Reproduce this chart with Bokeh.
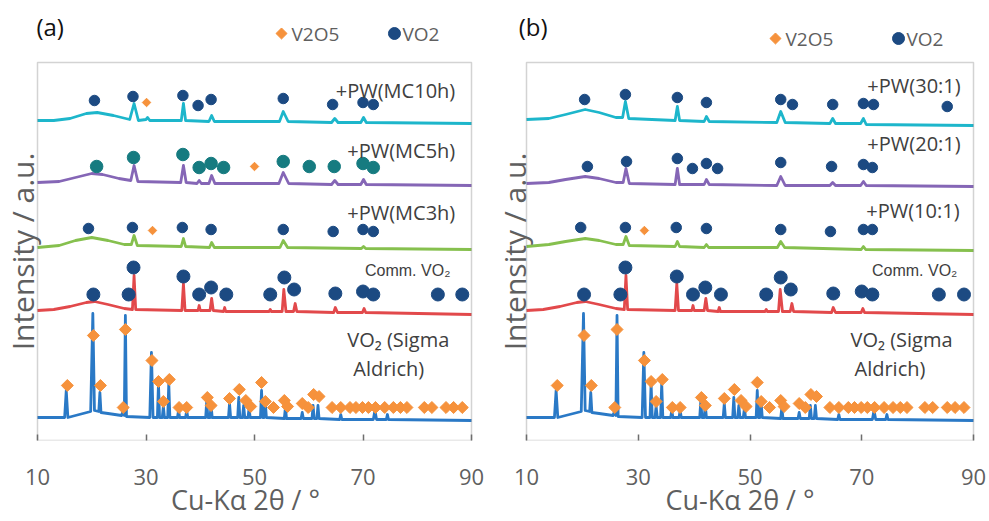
import math
from bokeh.plotting import figure
from bokeh.layouts import row
from bokeh.models import Range1d, Label, FixedTicker, BoxAnnotation
from bokeh.embed import file_html
from bokeh.resources import INLINE

# ---------------- data ----------------
X_TICKS = [10, 30, 50, 70, 90]
X_MIN, X_MAX = 10, 90
Y_TOP = 378  # top of the plotting box, a.u.

# XRD traces: (2theta, intensity incl. vertical offset, a.u.)
sigma_trace = [(10, 23), (15.0, 23), (15.3, 50), (15.6, 23), (17, 25), (19.8, 29), (20.2, 127), (20.5, 30),
               (21.3, 29), (21.5, 48), (21.7, 28), (23, 27), (25.5, 25), (25.8, 30), (26.0, 25), (26.2, 125),
               (26.4, 24), (30.7, 23), (31.0, 88), (31.3, 23), (32.1, 23), (32.3, 57), (32.5, 23), (33.0, 23),
               (33.2, 34), (33.4, 23), (34.0, 23), (34.2, 57), (34.4, 23), (35.8, 23), (36.0, 30), (36.2, 23),
               (37.3, 23), (37.5, 30), (37.7, 23), (41.0, 23), (41.2, 40), (41.4, 23), (41.8, 23), (42.0, 35),
               (42.2, 23), (45.2, 23), (45.4, 37), (45.6, 23), (46.9, 23), (47.1, 43), (47.3, 23), (47.8, 23),
               (48.0, 35), (48.2, 23), (48.8, 23), (49.0, 32), (49.2, 23), (51.1, 23), (51.3, 50), (51.5, 23),
               (51.8, 23), (52.0, 37), (52.2, 23), (55.5, 22), (55.7, 33), (55.9, 22), (58.6, 22), (58.8, 28),
               (59.0, 22), (60.6, 22), (60.8, 35), (61.0, 22), (61.5, 22), (61.7, 35), (61.9, 22), (65.7, 21),
               (65.9, 26), (66.1, 21), (71.9, 21), (72.2, 30), (72.5, 21), (74.3, 21), (74.5, 26), (74.7, 21),
               (90, 20)]
comm_trace = [(10, 130), (13, 131), (16, 134), (19, 138), (20.5, 139), (23, 136), (26, 132), (27.5, 131),
              (27.8, 165), (28.1, 131), (36.6, 130), (36.9, 157), (37.2, 130), (39.6, 130), (39.8, 135),
              (40.0, 130), (41.8, 130), (42.1, 142), (42.4, 130), (44.3, 129), (44.5, 133), (44.7, 129),
              (52.7, 129), (52.9, 131), (53.1, 129), (55.1, 129), (55.4, 151), (55.8, 129), (57.2, 129),
              (57.5, 137), (57.8, 129), (64.6, 128), (64.9, 133), (65.3, 128), (69.9, 128), (70.2, 132),
              (70.5, 128), (90, 126)]
mc3h_trace = [(10, 193), (14, 195), (17, 200), (20, 203), (23, 200), (26, 196), (27.3, 196), (27.8, 205),
              (28.4, 195), (36.5, 194), (36.9, 202), (37.3, 194), (41.7, 193), (42.1, 198), (42.6, 193),
              (54.7, 193), (55.3, 200), (56.1, 193), (69.7, 192), (70.1, 194), (70.5, 192), (90, 191)]
mc5h_trace = [(10, 258), (14, 259), (17, 263), (20, 267), (22, 266), (25, 262), (27.2, 260), (27.8, 275),
              (28.5, 259), (36.4, 258), (36.9, 275), (37.4, 258), (39.4, 257), (39.8, 260), (40.2, 257),
              (41.6, 257), (42.1, 265), (42.7, 257), (54.5, 257), (55.3, 268), (56.3, 257), (64.2, 256),
              (64.8, 260), (65.4, 256), (69.6, 256), (70.1, 261), (70.6, 256), (90, 255)]
mc10h_trace = [(10, 320), (13, 320), (16, 322), (19, 327), (21, 328), (24, 325), (27, 321), (27.8, 337),
               (28.6, 320), (30.0, 321), (30.3, 323), (30.7, 320), (36.5, 320), (36.9, 337), (37.3, 320),
               (41.6, 319), (42.1, 325), (42.6, 319), (54.6, 319), (55.3, 329), (56.2, 319), (64.2, 318),
               (64.8, 322), (65.4, 318), (69.6, 318), (70.1, 323), (70.6, 318), (90, 317)]
r10_trace = [(10, 194), (14, 196), (17, 199), (20.5, 202), (23, 200), (26, 196), (27.3, 196), (27.8, 204),
             (28.4, 195), (36.6, 194), (37.0, 199), (37.4, 194), (41.8, 193), (42.2, 196), (42.6, 193),
             (54.9, 193), (55.5, 199), (56.2, 193), (69.9, 191), (70.3, 194), (70.7, 191), (90, 190)]
r20_trace = [(10, 257), (14, 258), (17, 261), (20.5, 264), (23, 262), (26, 258), (27.3, 258), (27.8, 272),
             (28.4, 257), (36.6, 256), (37.0, 272), (37.4, 256), (41.8, 256), (42.2, 261), (42.7, 256),
             (54.8, 255), (55.5, 264), (56.3, 255), (64.3, 255), (64.8, 258), (65.3, 255), (69.8, 255),
             (70.3, 259), (70.8, 255), (90, 254)]
r30_trace = [(10, 321), (14, 322), (17, 326), (20.5, 331), (23, 328), (26, 323), (27.2, 323), (27.7, 339),
             (28.3, 322), (36.6, 320), (37.0, 334), (37.4, 320), (41.8, 319), (42.2, 324), (42.7, 319),
             (54.8, 318), (55.5, 329), (56.3, 318), (64.3, 317), (64.8, 322), (65.3, 317), (69.8, 317),
             (70.3, 322), (70.8, 316), (90, 315)]

# phase markers (2theta, marker height in a.u.)
sigma_v2o5_x = [15.5, 20.3, 21.6, 25.8, 26.2, 31.1, 32.3, 33.2, 34.3, 36.1, 37.5, 41.3, 42.0, 45.4, 47.2,
                48.4, 49.3, 51.3, 52.0, 53.5, 55.5, 56.1, 58.8, 59.9, 60.9, 61.9, 64.3, 65.9, 67.6, 68.7,
                69.9, 71.0, 72.3, 74.0, 75.6, 76.9, 78.1, 81.3, 82.7, 85.3, 86.7, 88.3]
sigma_v2o5_y = [55, 105, 55, 33, 111, 80, 59, 39, 61, 33, 33, 43, 35, 42, 51,
                40, 34, 58, 39, 33, 40, 34, 37, 33, 46, 44, 33, 33, 33, 33,
                33, 33, 33, 33, 33, 33, 33, 33, 33, 33, 33, 33]
comm_vo2_x = [20.3, 26.8, 27.7, 36.9, 39.8, 42.0, 44.8, 52.9, 55.5, 57.3, 64.9, 70.0, 71.9, 83.8, 88.3]
comm_vo2_y = [146, 146, 173, 164, 146, 153, 146, 146, 163, 151, 147, 149, 146, 146, 146]

mc3h_vo2_x = [19.4, 27.5, 36.7, 42.0, 55.3, 64.5, 70.0, 71.9]
mc3h_vo2_y = [212, 213, 213, 211, 211, 209, 211, 209]
mc3h_v2o5_x = [31.2]
mc3h_v2o5_y = [210]
mc5h_vo2_x = [20.9, 27.7, 36.8, 39.8, 42.0, 44.3, 55.3, 60.1, 64.7, 70.0, 71.9]
mc5h_vo2_y = [274, 283, 286, 273, 277, 273, 279, 274, 274, 277, 273]
mc5h_v2o5_x = [50.0]
mc5h_v2o5_y = [274]
mc10h_vo2_x = [20.5, 27.6, 36.8, 39.6, 42.0, 55.3, 64.4, 70.0, 71.9]
mc10h_vo2_y = [340, 344, 345, 335, 341, 342, 336, 338, 336]
mc10h_v2o5_x = [30.1]
mc10h_v2o5_y = [338]

r10_vo2_x = [19.7, 27.7, 36.8, 42.2, 55.5, 64.4, 70.3, 71.9]
r10_vo2_y = [213, 213, 213, 212, 211, 209, 211, 211]
r10_v2o5_x = [31.1]
r10_v2o5_y = [210]
r20_vo2_x = [20.9, 27.9, 37.0, 39.7, 42.2, 44.2, 55.5, 64.6, 70.3, 71.9]
r20_vo2_y = [274, 279, 282, 272, 277, 272, 278, 274, 276, 273]
r30_vo2_x = [20.4, 27.7, 37.0, 42.2, 55.5, 57.6, 64.8, 70.3, 72.1, 85.3]
r30_vo2_y = [341, 346, 343, 338, 341, 336, 336, 337, 336, 334]

labels_a = ["+PW(MC10h)", "+PW(MC5h)", "+PW(MC3h)"]
labels_b = ["+PW(30:1)", "+PW(20:1)", "+PW(10:1)"]
legend_names = ["V2O5", "VO2"]

# ---------------- style ----------------
C_CYAN = "#1DB6CB"
C_PURPLE = "#8566B6"
C_GREEN = "#86C04E"
C_RED = "#E2494B"
C_BLUE = "#2A79C6"
C_ORANGE = "#F6923C"
C_NAVY = "#1C4A82"
C_TEAL = "#167B80"
C_FRAME = "#6E6E6E"
C_TXT = "#404040"
C_AX = "#5F5F5F"
FONT = "Open Sans"

FIG_H = 521
AXIS_H = 81          # pixels below the box for ticks + title


def xs(tr):
    return [p[0] for p in tr]


def ys(tr):
    return [p[1] for p in tr]


def make_panel(width, box_left, box_w, traces, markers, texts, tag, legend_pos, ytitle_x):
    scale = box_w / (X_MAX - X_MIN)
    x0 = X_MIN - box_left / scale
    x1 = X_MAX + (width - box_left - box_w) / scale
    frame_h = FIG_H - AXIS_H
    p = figure(width=width, height=FIG_H, output_backend="svg", toolbar_location=None,
               x_range=Range1d(x0, x1), y_range=Range1d(0, frame_h),
               min_border_left=0, min_border_right=0, min_border_top=0, min_border_bottom=AXIS_H)
    p.grid.visible = False
    p.yaxis.visible = False
    p.outline_line_color = None
    p.background_fill_color = "white"
    p.border_fill_color = "white"

    ax = p.xaxis[0]
    ax.ticker = FixedTicker(ticks=X_TICKS)
    ax.minor_tick_line_color = None
    ax.major_tick_in = 6
    ax.major_tick_out = 0
    ax.major_tick_line_color = C_FRAME
    ax.major_tick_line_width = 1.5
    ax.axis_line_color = None
    ax.major_label_text_font = FONT
    ax.major_label_text_font_size = "22px"
    ax.major_label_text_color = C_AX
    ax.major_label_standoff = 28
    ax.axis_label = "Cu-K\u03b1 2\u03b8 / \u00b0"
    ax.axis_label_text_font = FONT
    ax.axis_label_text_font_size = "27px"
    ax.axis_label_text_font_style = "normal"
    ax.axis_label_text_color = C_AX
    ax.axis_label_standoff = -7

    # plotting box
    p.add_layout(BoxAnnotation(left=X_MIN, right=X_MAX, bottom=0, top=Y_TOP,
                               fill_alpha=0, line_color=C_FRAME, line_width=1.5))

    for tr, col in traces:
        p.line(xs(tr), ys(tr), line_color=col, line_width=2.8, line_join="round")

    for mx, my, kind, col, size in markers:
        if kind == "d":
            p.scatter(mx, my, marker="square", angle=math.pi / 4, size=size,
                      fill_color=col, line_color=col)
        else:
            p.scatter(mx, my, marker="circle", size=size, fill_color=col, line_color=col)

    for txt, x, y, align, size, font, col in texts:
        p.add_layout(Label(x=x, y=y, text=txt, text_align=align, text_baseline="middle",
                           text_font=font, text_font_size=size, text_color=col))

    # panel tag
    p.add_layout(Label(x=tag[1], y=frame_h - 26, text=tag[0], text_align="left", text_baseline="middle",
                       text_font=FONT, text_font_size="24px", text_color="#111111"))
    # y title
    p.add_layout(Label(x=ytitle_x, y=frame_h - 251, text="Intensity / a.u.", angle=math.pi / 2,
                       text_align="center", text_baseline="middle",
                       text_font=FONT, text_font_size="30px", text_color=C_AX))

    # legend: diamond = V2O5, circle = VO2
    (dx, cx, ly) = legend_pos
    p.scatter([dx], [ly], marker="square", angle=math.pi / 4, size=7.8,
              fill_color=C_ORANGE, line_color=C_ORANGE)
    p.scatter([cx], [ly], marker="circle", size=12, fill_color=C_NAVY, line_color=C_NAVY)
    gap = 10 / scale
    for name, gx in zip(legend_names, (dx + gap, cx + gap * 0.8)):
        p.add_layout(Label(x=gx, y=ly, text=name, text_align="left", text_baseline="middle",
                           text_font=FONT, text_font_size="19px", text_color=C_AX))
    return p


traces_a = [(sigma_trace, C_BLUE), (comm_trace, C_RED), (mc3h_trace, C_GREEN),
            (mc5h_trace, C_PURPLE), (mc10h_trace, C_CYAN)]
markers_a = [(sigma_v2o5_x, sigma_v2o5_y, "d", C_ORANGE, 8.5),
             (comm_vo2_x, comm_vo2_y, "c", C_NAVY, 13),
             (mc3h_vo2_x, mc3h_vo2_y, "c", C_NAVY, 10.5),
             (mc3h_v2o5_x, mc3h_v2o5_y, "d", C_ORANGE, 6),
             (mc5h_vo2_x, mc5h_vo2_y, "c", C_TEAL, 12.5),
             (mc5h_v2o5_x, mc5h_v2o5_y, "d", C_ORANGE, 6),
             (mc10h_vo2_x, mc10h_vo2_y, "c", C_NAVY, 10.5),
             (mc10h_v2o5_x, mc10h_v2o5_y, "d", C_ORANGE, 6)]
texts_a = [(labels_a[0], 87.0, 350, "right", "20px", FONT, C_TXT),
           (labels_a[1], 87.0, 290, "right", "20px", FONT, C_TXT),
           (labels_a[2], 87.0, 228, "right", "20px", FONT, C_TXT),
           ("Comm. VO\u2082", 86.1, 170, "right", "16px", "Liberation Sans", C_TXT),
           ("VO\u2082 (Sigma", 67.1, 101, "left", "20px", FONT, C_TXT),
           ("Aldrich)", 68.2, 72, "left", "20px", FONT, C_TXT)]

traces_b = [(sigma_trace, C_BLUE), (comm_trace, C_RED), (r10_trace, C_GREEN),
            (r20_trace, C_PURPLE), (r30_trace, C_CYAN)]
markers_b = [(sigma_v2o5_x, sigma_v2o5_y, "d", C_ORANGE, 8.5),
             (comm_vo2_x, comm_vo2_y, "c", C_NAVY, 13),
             (r10_vo2_x, r10_vo2_y, "c", C_NAVY, 10.5),
             (r10_v2o5_x, r10_v2o5_y, "d", C_ORANGE, 6),
             (r20_vo2_x, r20_vo2_y, "c", C_NAVY, 10.5),
             (r30_vo2_x, r30_vo2_y, "c", C_NAVY, 10.5)]
texts_b = [(labels_b[0], 87.7, 355, "right", "20px", FONT, C_TXT),
           (labels_b[1], 87.7, 297, "right", "20px", FONT, C_TXT),
           (labels_b[2], 87.5, 230, "right", "20px", FONT, C_TXT),
           ("Comm. VO\u2082", 87.1, 170, "right", "16px", "Liberation Sans", C_TXT),
           ("VO\u2082 (Sigma", 68.0, 101, "left", "20px", FONT, C_TXT),
           ("Aldrich)", 68.7, 72, "left", "20px", FONT, C_TXT)]

pa = make_panel(490, 37, 434, traces_a, markers_a, texts_a, ("(a)", 9.8),
                (54.98, 75.8, 407), 7.24)
pb = make_panel(499, 36, 447, traces_b, markers_b, texts_b, ("(b)", 8.6),
                (54.56, 76.58, 402), 7.85)

layout = row(pa, pb)
open("out.html", "w").write(file_html(layout, INLINE))
